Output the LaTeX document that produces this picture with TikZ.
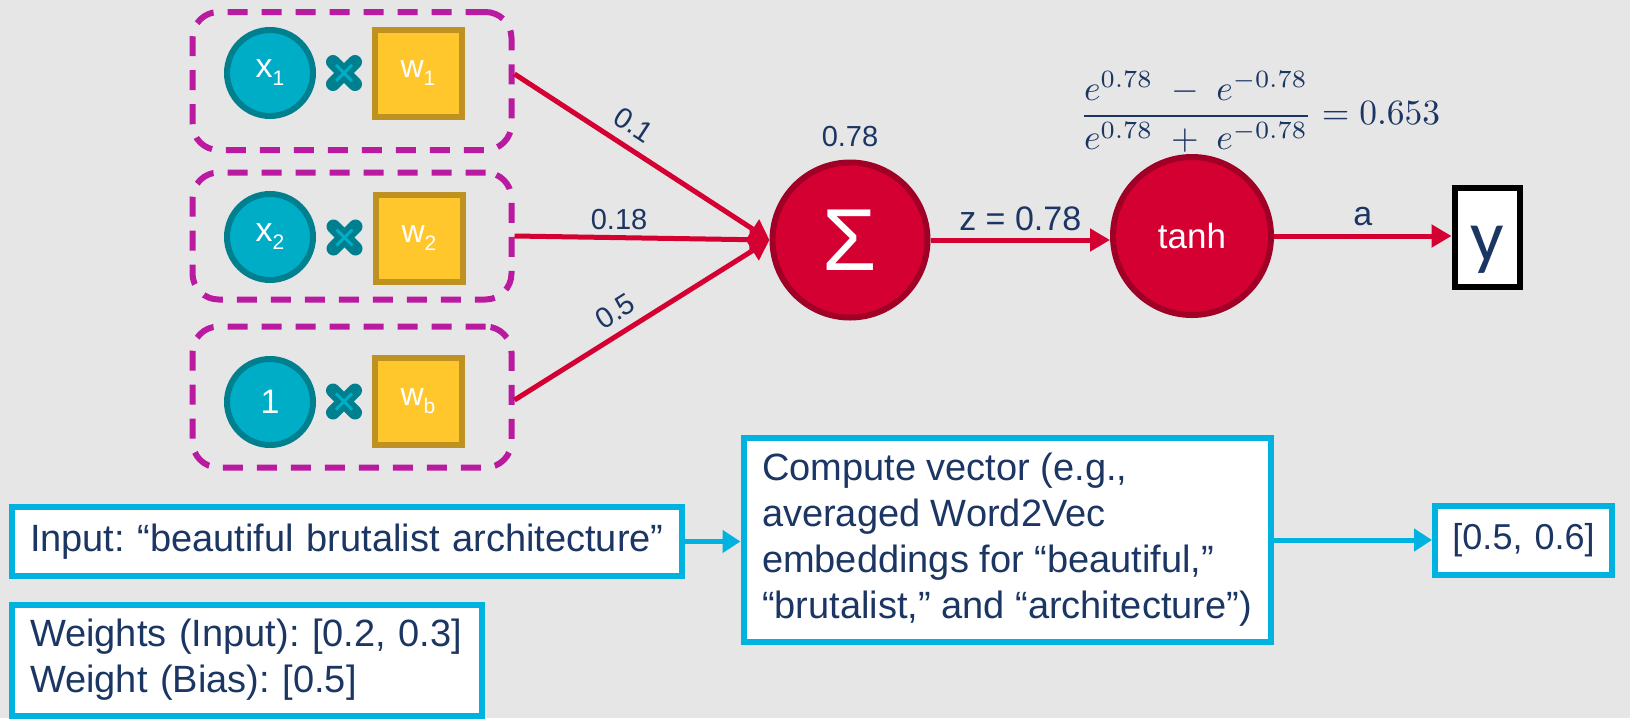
\documentclass[tikz,border=0pt]{standalone}
\usepackage{graphicx}
\usepackage{fontspec}
\setmainfont{Liberation Sans}
\newfontfamily\yfont{Carlito}
\usetikzlibrary{arrows.meta,calc}
\definecolor{bg}{RGB}{230,230,230}
\definecolor{mag}{RGB}{186,26,160}
\definecolor{tealf}{RGB}{0,173,198}
\definecolor{teald}{RGB}{0,128,143}
\definecolor{yel}{RGB}{255,199,44}
\definecolor{yeld}{RGB}{191,145,32}
\definecolor{red1}{RGB}{212,0,50}
\definecolor{red2}{RGB}{160,0,38}
\definecolor{navy}{RGB}{28,54,100}
\definecolor{cyanb}{RGB}{0,178,224}
\frenchspacing
\begin{document}
\begin{tikzpicture}[x=1pt,y=-1pt,
  grp/.style={draw=mag, line width=6pt, dash pattern=on 20pt off 14pt, rounded corners=26pt, minimum width=319pt, inner sep=0pt},
  xin/.style={circle, fill=tealf, draw=teald, line width=6pt, minimum size=86pt, inner sep=0pt, text=white, font=\fontsize{34}{40}\selectfont},
  wsq/.style={rectangle, fill=yel, draw=yeld, line width=6pt, minimum size=87pt, inner sep=0pt, text=white, font=\fontsize{32}{40}\selectfont},
  neuron/.style={circle, fill=red1, draw=red2, line width=6pt, minimum size=155pt, inner sep=0pt, text=white},
  rarr/.style={draw=red1, line width=5pt, -{Triangle[length=20pt,width=22pt]}},
  lbl/.style={text=navy, font=\fontsize{29}{34}\selectfont, inner sep=0pt},
  cbox/.style={draw=cyanb, fill=white, line width=6pt, inner ysep=0pt, text=navy, font=\fontsize{38}{46}\selectfont},
  carr/.style={draw=cyanb, line width=5pt, -{Triangle[length=18pt,width=22pt]}},
  crossd/.style={draw=teald, line width=14pt, line cap=round},
  crossl/.style={draw=tealf, line width=3pt},
]
\fill[bg] (0,0) rectangle (1630,718);
\useasboundingbox (0,0) rectangle (1630,718);

% input groups
\node[grp, minimum height=138pt] (g1) at (352,81) {};
\node[grp, minimum height=127pt] (g2) at (352,236) {};
\node[grp, minimum height=141pt] (g3) at (352,397) {};

\node[xin] (x1) at (270,73) {x\raisebox{-8pt}{\fontsize{21}{21}\selectfont 1}};
\node[xin] (x2) at (270,237) {x\raisebox{-8pt}{\fontsize{21}{21}\selectfont 2}};
\node[xin] (x3) at (270,402) {1};
\node[wsq] (w1) at (418,73) {w\raisebox{-8pt}{\fontsize{21}{21}\selectfont 1}};
\node[wsq] (w2) at (419,238) {w\raisebox{-8pt}{\fontsize{21}{21}\selectfont 2}};
\node[wsq] (w3) at (418,401) {w\raisebox{-8pt}{\fontsize{21}{21}\selectfont b}};

% multiplication crosses
\foreach \a/\b in {x1/w1,x2/w2,x3/w3}{
  \coordinate (c) at ($(\a)!0.5!(\b)$);
  \draw[crossd] ($(c)+(-11,-11)$) -- ($(c)+(11,11)$);
  \draw[crossd] ($(c)+(-11,11)$) -- ($(c)+(11,-11)$);
  \draw[crossl] ($(c)+(-8,-8)$) -- ($(c)+(8,8)$);
  \draw[crossl] ($(c)+(-8,8)$) -- ($(c)+(8,-8)$);
}

% neurons
\node[neuron, font=\fontsize{88}{90}\selectfont] (s) at (850,240) {Σ};
\node[neuron, minimum size=158pt, font=\fontsize{35}{40}\selectfont] (t) at (1192,236) {tanh};
\node[draw=black, fill=white, line width=6pt, minimum width=65pt, minimum height=99pt, inner sep=0pt,
      text height=58pt, text depth=10pt, text=navy, font=\yfont\fontsize{74}{80}\selectfont] (y) at (1487,237) {y};

\node[lbl, anchor=south] (sl) at ([yshift=13pt]s.north) {0.78};

% weighted connections
\draw[rarr] ([yshift=7pt]g1.east) -- (s.west) node[lbl, sloped, pos=0.42, above=10pt] {0.1};
\draw[rarr] (g2.east) -- (s.west) node[lbl, pos=0.41, above=5pt] {0.18};
\draw[rarr] ([yshift=-3pt]g3.east) -- (s.west) node[lbl, sloped, pos=0.44, above=9pt] {0.5};

\draw[rarr] (s.east) -- (s.east -| t.west) node[lbl, midway, above=7pt, font=\fontsize{34}{40}\selectfont] {z = 0.78};
\draw[rarr] (t.east) -- (t.east -| y.west) node[lbl, midway, above=8pt, font=\fontsize{34}{40}\selectfont] {a};

\node[text=navy, inner sep=0pt] (f) at (1260,112)
  {\scalebox{3.55}{$\displaystyle\frac{e^{0.78}\;-\;e^{-0.78}}{e^{0.78}\;+\;e^{-0.78}}=0.653$}};

% bottom pipeline
\node[cbox, inner xsep=18pt, text width=634pt, minimum height=69pt, align=left] (in) at (347,541.5)
  {Input: “beautiful brutalist architecture”};
\node[cbox, inner xsep=18pt, text width=434pt, minimum height=111pt, align=left] (wb) at (247,660)
  {Weights (Input): [0.2, 0.3]\\Weight (Bias): [0.5]};
\node[cbox, inner xsep=0pt, minimum width=527pt, minimum height=204pt, align=left] (cv) at (1007,540)
  {Compute vector (e.g.,\\averaged Word2Vec\\embeddings for “beautiful,”\\“brutalist,” and “architecture”)};
\node[cbox, inner xsep=10pt, text width=157pt, minimum height=69pt, align=center, font=\fontsize{36}{44}\selectfont] (res) at (1523.5,540)
  {[0.5, 0.6]};

\draw[carr] (in.east) -- (in.east -| cv.west);
\draw[carr] (cv.east) -- (cv.east -| res.west);
\end{tikzpicture}
\end{document}
